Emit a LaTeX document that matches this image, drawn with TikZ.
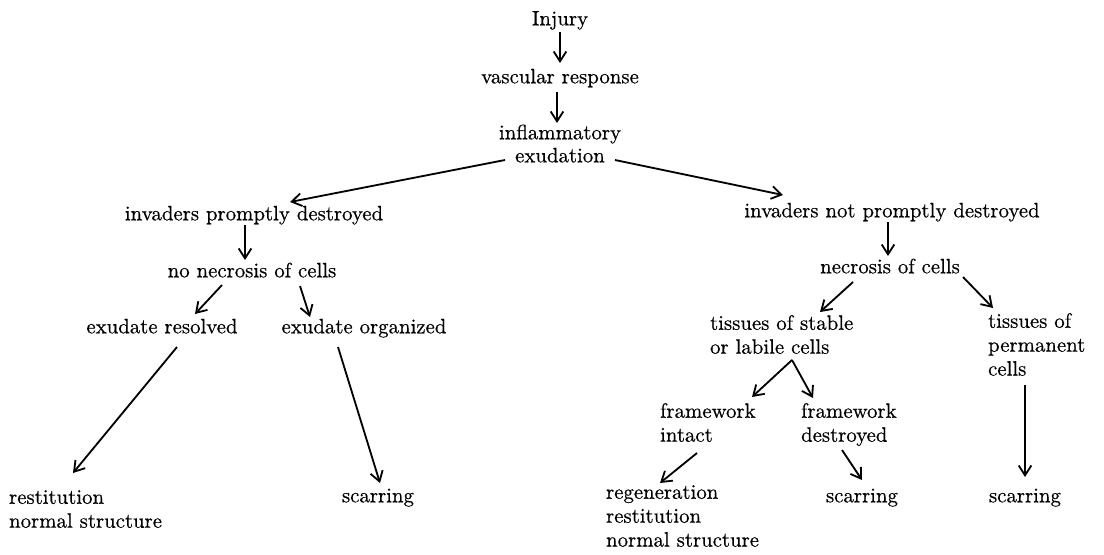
\documentclass[tikz,border=0pt]{standalone}
\usepackage{fontspec}
\setmainfont{lmroman10-regular.otf}[FakeBold=0.5]
\usepackage{tikz}
\usetikzlibrary{calc, arrows.meta}

\begin{document}
\begin{tikzpicture}[x=0.025cm, y=-0.025cm,
    >={Straight Barb[length=7pt,width=9pt]},
    every node/.style={font=\fontsize{14.8}{17}\selectfont, inner sep=2pt},
    txt/.style={text height=10.5pt, text depth=3pt},
    multi/.style={align=left, anchor=north west},
    arr/.style={->, line width=1.3pt}]
    \useasboundingbox (0,0) rectangle (1104,554);

    % Thân chính
    \node[txt] (injury) at (560,20) {Injury};
    \node[txt] (vasc) at (560,78) {vascular response};
    \node[txt] (inflam) at (560,134) {inflammatory};
    \node[txt] (exud) at (560,157) {exudation};

    % Nhánh trái
    \node[txt] (promptly) at (254,215) {invaders promptly destroyed};
    \node[txt] (nonecro) at (252,272) {no necrosis of cells};
    \node[txt] (resolved) at (162,328) {exudate resolved};
    \node[txt] (organized) at (364,328) {exudate organized};
    \node[multi] (restit) at (6,487) {restitution\\normal structure};
    \node[txt] (scarA) at (378,497) {scarring};

    % Nhánh phải
    \node[txt] (notprompt) at (892,212) {invaders not promptly destroyed};
    \node[txt] (necro) at (890,268) {necrosis of cells};
    \node[multi] (stable) at (707,312) {tissues of stable\\or labile cells};
    \node[multi] (permanent) at (985,310) {tissues of\\permanent\\cells};
    \node[multi] (fwintact) at (657,400) {framework\\intact};
    \node[multi] (fwdestr) at (798,400) {framework\\destroyed};
    \node[multi] (regen) at (603,482) {regeneration\\restitution\\normal structure};
    \node[txt] (scarB) at (862,497) {scarring};
    \node[txt] (scarC) at (1025,497) {scarring};

    % Mũi tên
    \draw[arr] ($(injury)+(0,12)$) -- ($(vasc)+(0,-15)$);
    \draw[arr] ($(vasc)+(-3,14)$) -- ($(inflam)+(-3,-11)$);
    \draw[arr] ($(exud)+(-55,3)$) -- ($(promptly)+(36,-13)$);
    \draw[arr] ($(exud)+(55,3)$) -- ($(notprompt)+(-109,-17)$);
    \draw[arr] ($(promptly)+(-9,10)$) -- ($(nonecro)+(-7,-12)$);
    \draw[arr] ($(nonecro)+(-30,13)$) -- ($(resolved)+(33,-14)$);
    \draw[arr] ($(nonecro)+(48,14)$) -- ($(organized)+(-54,-11)$);
    \draw[arr] ($(resolved)+(15,19)$) -- ($(restit.north west)+(67,-14)$);
    \draw[arr] ($(organized)+(-26,19)$) -- ($(scarA)+(2,-14)$);
    \draw[arr] ($(notprompt)+(-4,10)$) -- ($(necro)+(-2,-12)$);
    \draw[arr] ($(necro)+(-37,14)$) -- ($(stable.north west)+(113,0)$);
    \draw[arr] ($(necro)+(73,9)$) -- ($(permanent.north west)+(8,-2)$);
    \draw[arr] ($(stable.north west)+(85,48)$) -- ($(fwintact.north west)+(95,-3)$);
    \draw[arr] ($(stable.north west)+(85,48)$) -- ($(fwdestr.north west)+(15,-2)$);
    \draw[arr] ($(fwintact.north west)+(40,53)$) -- ($(regen.north west)+(57,1)$);
    \draw[arr] ($(fwdestr.north west)+(44,50)$) -- ($(scarB)+(0,-17)$);
    \draw[arr] ($(permanent.north west)+(40,75)$) -- ($(scarC)+(0,-20)$);
\end{tikzpicture}
\end{document}
